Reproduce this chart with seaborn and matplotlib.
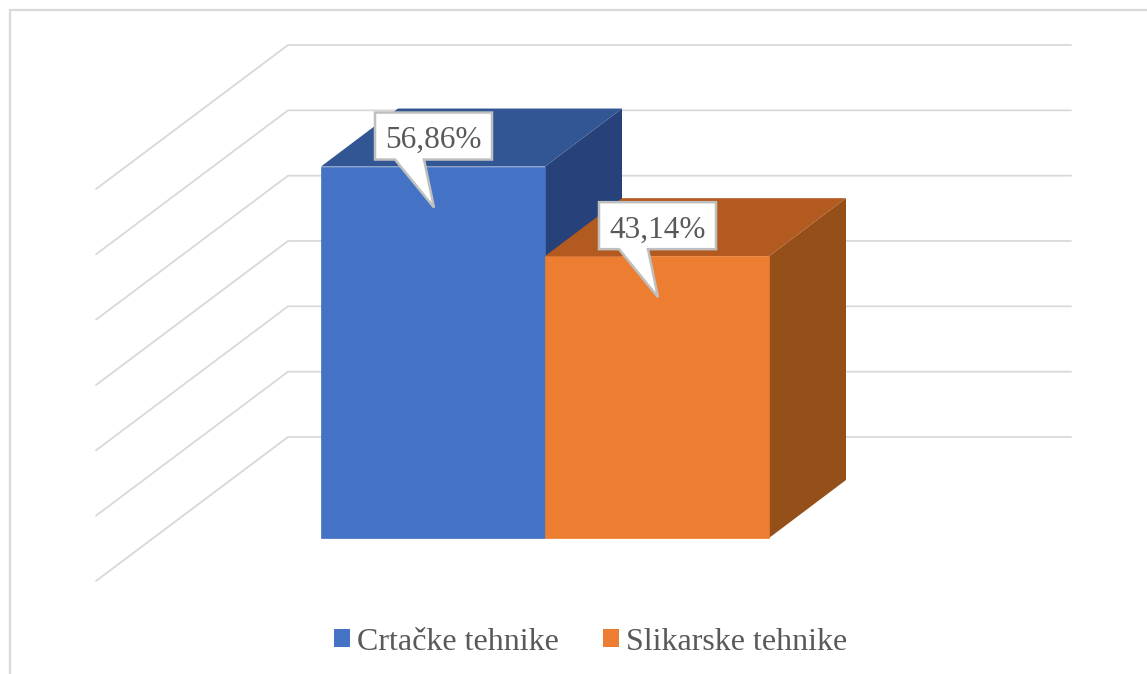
import numpy as np
import pandas as pd
import seaborn as sns
import matplotlib.pyplot as plt
from matplotlib.patches import Polygon, Patch
from matplotlib.lines import Line2D

tehnike = ["Crtačke tehnike", "Slikarske tehnike"]
udio = [56.86, 43.14]
oznake = ["56,86%", "43,14%"]
mreza = [0, 10, 20, 30, 40, 50, 60]

boje = ["#4472C4", "#ED7D31"]
boje_vrh = ["#325694", "#B35A20"]
boje_bok = ["#27427A", "#95501A"]
siva_mreza = "#D9D9D9"
siva_tekst = "#595959"

W, H = 1147, 674
sx = 224.0   # px per category
sy = 6.533   # px per percent

sns.set_theme(style="white")
plt.rcParams["font.family"] = ["Liberation Serif", "DejaVu Serif"]

fig = plt.figure(figsize=(W / 100, H / 100), dpi=100, facecolor="white")
ax = fig.add_axes([0, 0, 1, 1])

df = pd.DataFrame({"tehnika": tehnike, "udio": udio})
sns.barplot(data=df, x="tehnika", y="udio", hue="tehnika", palette=boje,
            width=1.0, dodge=False, legend=False, ax=ax, zorder=3,
            saturation=1, linewidth=0)

# bars start at 321 px, zero line at 538 px
ax.set_xlim(-0.5 - 321 / sx, -0.5 + (W - 321) / sx)
ax.set_ylim(-(H - 538) / sy, 538 / sy)
ax.set_axis_off()

def dpx(n):
    return n / sx

def vpx(n):
    return n / sy

# back wall and left side of the floor frame
x_zid = ax.get_xlim()[0] + dpx(288)
x_kraj = ax.get_xlim()[0] + dpx(1071)
x_pred = ax.get_xlim()[0] + dpx(96)
for v in mreza:
    ax.plot([x_pred, x_zid, x_kraj],
            [v + vpx(-43), v + vpx(101), v + vpx(101)],
            color=siva_mreza, lw=1.3, zorder=1, solid_joinstyle="miter")

# depth of the bars
dx, dy = dpx(77), vpx(58)
for i, bar in enumerate(ax.patches):
    x0, x1 = bar.get_x(), bar.get_x() + bar.get_width()
    top = bar.get_height()
    ax.add_patch(Polygon([(x1, 0), (x1 + dx, dy), (x1 + dx, top + dy), (x1, top)],
                         fc=boje_bok[i], ec="none", zorder=3 + i * 0.1))
    ax.add_patch(Polygon([(x0, top), (x0 + dx, top + dy), (x1 + dx, top + dy), (x1, top)],
                         fc=boje_vrh[i], ec="none", zorder=3 + i * 0.1))
    bar.set_zorder(3.05 + i * 0.1)
    bar.set_edgecolor(boje[i])
    bar.set_linewidth(0.5)

# callouts, offsets in px from the tip
for bar, tekst in zip(ax.patches, oznake):
    xt = bar.get_x() + bar.get_width() / 2 + dpx(1)
    yt = bar.get_height() - vpx(41)
    pts = [(-59, 48), (-59, 95), (58, 95), (58, 48), (-10, 48), (0, 0), (-39, 48)]
    ax.add_patch(Polygon([(xt + dpx(a), yt + vpx(b)) for a, b in pts], closed=True,
                         fc="white", ec="#BFBFBF", lw=1.8, zorder=5, joinstyle="miter"))
    ax.text(xt - dpx(0.5), yt + vpx(67), tekst, ha="center", va="center",
            fontsize=22.5, color=siva_tekst, zorder=6)

# chart frame, open at right and bottom
fig.add_artist(Line2D([9.5 / W, 9.5 / W, 1], [0, 1 - 10 / H, 1 - 10 / H],
                      color=siva_mreza, lw=1.6, solid_joinstyle="miter"))

rucke = [Patch(fc=b, ec="none", label=t) for b, t in zip(boje, tehnike)]
fig.legend(handles=rucke, loc="center", bbox_to_anchor=(590.5 / W, 1 - 642 / H), ncol=2,
           frameon=False, fontsize=23, labelcolor=siva_tekst,
           handlelength=0.5, handleheight=0.5, handletextpad=0.22, columnspacing=1.38,
           borderpad=0, borderaxespad=0)

fig.savefig("out.png", dpi=100, facecolor="white")
